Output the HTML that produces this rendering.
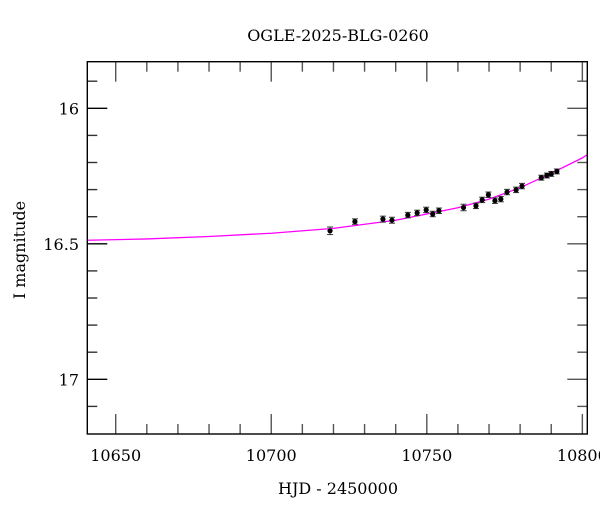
<!DOCTYPE html>
<html><head><meta charset="utf-8"><style>
body{margin:0;background:#fff}
svg text{font-family:"DejaVu Serif","Liberation Serif",serif;fill:#000}
</style></head><body>
<svg id="chart" width="600" height="512" xmlns="http://www.w3.org/2000/svg">
<text x="338" y="41" font-size="16" text-anchor="middle">OGLE-2025-BLG-0260</text>
<text x="338" y="494" font-size="16" text-anchor="middle">HJD - 2450000</text>
<text transform="translate(25,250) rotate(-90)" font-size="16" text-anchor="middle">I magnitude</text>
<g id="ticks"></g>
<g id="model"></g>
<g id="pts"></g>
<rect x="87.3" y="61.7" width="500" height="372.3" fill="none" stroke="#000" stroke-width="1.4"/>
</svg>
<script>
const obsDays=[10718.9,10726.9,10735.9,10738.8,10743.9,10746.9,10749.8,10751.9,10753.9,10761.8,10765.8,10767.8,10769.8,10771.9,10773.8,10775.8,10778.7,10780.6,10786.8,10788.6,10790.0,10791.8];
const obsMags=[16.452,16.418,16.409,16.413,16.394,16.386,16.375,16.390,16.378,16.366,16.360,16.338,16.319,16.341,16.335,16.309,16.301,16.287,16.256,16.248,16.242,16.233];
const obsErrs=[0.014,0.010,0.011,0.011,0.010,0.010,0.010,0.010,0.010,0.012,0.010,0.010,0.010,0.010,0.010,0.010,0.010,0.010,0.009,0.009,0.009,0.009];
const modelDays=[10640,10660,10680,10700,10720,10740,10760,10770,10780,10790,10800,10802];
const modelMags=[16.487,16.482,16.473,16.461,16.443,16.413,16.367,16.335,16.293,16.240,16.183,16.171];
const xTicks=[10650,10700,10750,10800];
const yTicks=[16,16.5,17];
const X0=87.3,X1=587.3,Y0=61.7,Y1=434;
const x=d=>115.7+(d-10650)*3.111;
const y=m=>108.3+(m-16)*271;
const NS="http://www.w3.org/2000/svg";
function mk(tag,attrs,parent){const e=document.createElementNS(NS,tag);for(const k in attrs)e.setAttribute(k,attrs[k]);parent.appendChild(e);return e;}
const tg=document.getElementById('ticks');
for(let d=10650;d<=10800;d+=10){
  const major=(d%50===0);const L=major?20:10;const px=x(d);
  const t1=mk('line',{x1:px,x2:px,y1:Y1,y2:Y1-L,stroke:'#555','stroke-width':1.4},tg);
  
  
  const t2=mk('line',{x1:px,x2:px,y1:Y0,y2:Y0+L,stroke:'#555','stroke-width':1.4},tg);
  
  
}
xTicks.forEach(d=>{const t=mk('text',{x:x(d),y:461,'font-size':16,'text-anchor':'middle'},tg);t.textContent=d;
  
  });
for(let i=0;i<=12;i++){
  const m=15.9+i*0.1;const py=y(m);if(py<Y0||py>Y1+0.5)continue;
  const major=Math.abs(m*2-Math.round(m*2))<1e-6;const L=major?20:10;
  const t1=mk('line',{x1:X0,x2:X0+L,y1:py,y2:py,stroke:major?'#000':'#333','stroke-width':1.4},tg);
  
  
  const t2=mk('line',{x1:X1,x2:X1-L,y1:py,y2:py,stroke:'#555','stroke-width':1.4},tg);
  
  
}
yTicks.forEach(m=>{const t=mk('text',{x:79,y:y(m)+6,'font-size':16,'text-anchor':'end'},tg);t.textContent=String(m);
  
  });
const mg=document.getElementById('model');
const path=mk('polyline',{points:modelDays.map((d,i)=>Math.min(Math.max(x(d),X0),X1)+','+y(modelMags[i])).join(' '),fill:'none',stroke:'#ff00ff','stroke-width':1.3},mg);


const pg=document.getElementById('pts');
obsDays.forEach((d,i)=>{
  const px=x(d),py=y(obsMags[i]),e=obsErrs[i]*271;
  const g=mk('g',{},pg);
  
  
  mk('line',{x1:px,x2:px,y1:py-e,y2:py+e,stroke:'#333','stroke-width':1},g);
  mk('line',{x1:px-3,x2:px+3,y1:py-e,y2:py-e,stroke:'#333','stroke-width':1},g);
  mk('line',{x1:px-3,x2:px+3,y1:py+e,y2:py+e,stroke:'#333','stroke-width':1},g);
  mk('circle',{cx:px,cy:py,r:2.6,fill:'#000'},g);
});
</script>
</body></html>
